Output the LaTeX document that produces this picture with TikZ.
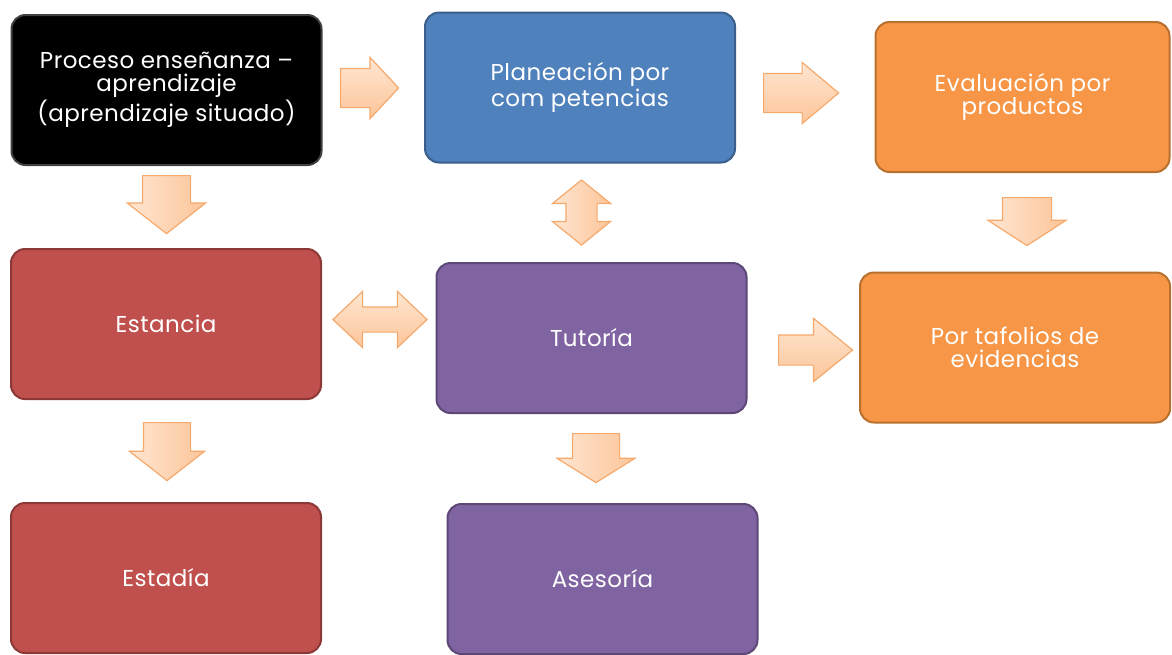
\documentclass[tikz,border=0pt]{standalone}
\usepackage{fontspec}
\setmainfont[LetterSpace=2]{Poppins}
\usetikzlibrary{shapes.arrows}

\definecolor{azul}{HTML}{4F81BD}
\definecolor{azulborde}{HTML}{3A5F8B}
\definecolor{naranja}{HTML}{F79646}
\definecolor{naranjaborde}{HTML}{B8702F}
\definecolor{rojo}{HTML}{C0504D}
\definecolor{rojoborde}{HTML}{8C3836}
\definecolor{morado}{HTML}{8064A2}
\definecolor{moradoborde}{HTML}{5C4776}
\definecolor{flechaclara}{HTML}{FFE6D2}
\definecolor{flechaoscura}{HTML}{FCC599}
\definecolor{flechaborde}{HTML}{F6A96C}

\tikzset{
  caja/.style={rectangle,rounded corners=7pt,line width=1pt,text=white,align=center,
    minimum width=155pt,minimum height=75pt,font=\fontsize{11.5}{11.5}\selectfont},
  flecha/.style={draw=flechaborde,line width=0.6pt},
  der/.style={flecha,single arrow,anchor=tail,inner xsep=0pt,top color=flechaclara,bottom color=flechaoscura},
  aba/.style={flecha,single arrow,anchor=tail,inner ysep=0pt,shape border rotate=270,left color=flechaclara,right color=flechaoscura},
}

\begin{document}
\begin{tikzpicture}[x=0.5pt,y=-0.5pt]
    \useasboundingbox[fill=white](0,0)rectangle(1172,654);

    \node[caja,fill=black,draw=black!75](proceso)at(166.5,90){Proceso enseñanza –\\aprendizaje\\(aprendizaje situado)};
    \node[caja,fill=azul,draw=azulborde](planeacion)at(580,87.5){Planeación por\\com petencias};
    \node[caja,fill=naranja,draw=naranjaborde,minimum width=147pt](evaluacion)at(1022.5,97){Evaluación por\\productos};
    \node[caja,fill=rojo,draw=rojoborde](estancia)at(166,324){Estancia};
    \node[caja,fill=morado,draw=moradoborde](tutoria)at(591.5,338){Tutoría};
    \node[caja,fill=naranja,draw=naranjaborde](portafolios)at(1015,347.5){Por tafolios de\\evidencias};
    \node[caja,fill=rojo,draw=rojoborde](estadia)at(166,578){Estadía};
    \node[caja,fill=morado,draw=moradoborde](asesoria)at(602.5,579){Asesoría};

    \node[der,inner ysep=9.5pt,minimum height=29pt,minimum width=30pt,single arrow head extend=5.5pt,single arrow tip angle=94](f1)at(340,88){};
    \node[der,inner ysep=9.5pt,minimum height=37.5pt,minimum width=30pt,single arrow head extend=5.5pt,single arrow tip angle=80](f2)at(763,93){};
    \node[der,inner ysep=7.25pt,minimum height=37pt,minimum width=31pt,single arrow head extend=8.25pt,single arrow tip angle=78](f3)at(778,350){};
    \node[aba,inner xsep=11.75pt,minimum height=29pt,minimum width=38.5pt,single arrow head extend=7.5pt,single arrow tip angle=104](f4)at(166.5,175){};
    \node[aba,inner xsep=12pt,minimum height=24pt,minimum width=38.5pt,single arrow head extend=7.25pt,single arrow tip angle=114](f5)at(1027,197){};
    \node[aba,inner xsep=11.5pt,minimum height=29pt,minimum width=37pt,single arrow head extend=7pt,single arrow tip angle=104](f6)at(167,422){};
    \node[aba,inner xsep=11.5pt,minimum height=24.5pt,minimum width=38.5pt,single arrow head extend=7.75pt,single arrow tip angle=116](f7)at(596,433){};
    \node[flecha,double arrow,top color=flechaclara,bottom color=flechaoscura,inner sep=6pt,minimum height=47pt,minimum width=27.5pt,double arrow head extend=7.75pt,double arrow tip angle=87](f8)at(380,319.5){};
    \node[flecha,double arrow,shape border rotate=90,left color=flechaclara,right color=flechaoscura,inner sep=7.5pt,minimum height=32.5pt,minimum width=28.5pt,double arrow head extend=6.75pt,double arrow tip angle=102](f9)at(581.5,212.5){};

\end{tikzpicture}
\end{document}
